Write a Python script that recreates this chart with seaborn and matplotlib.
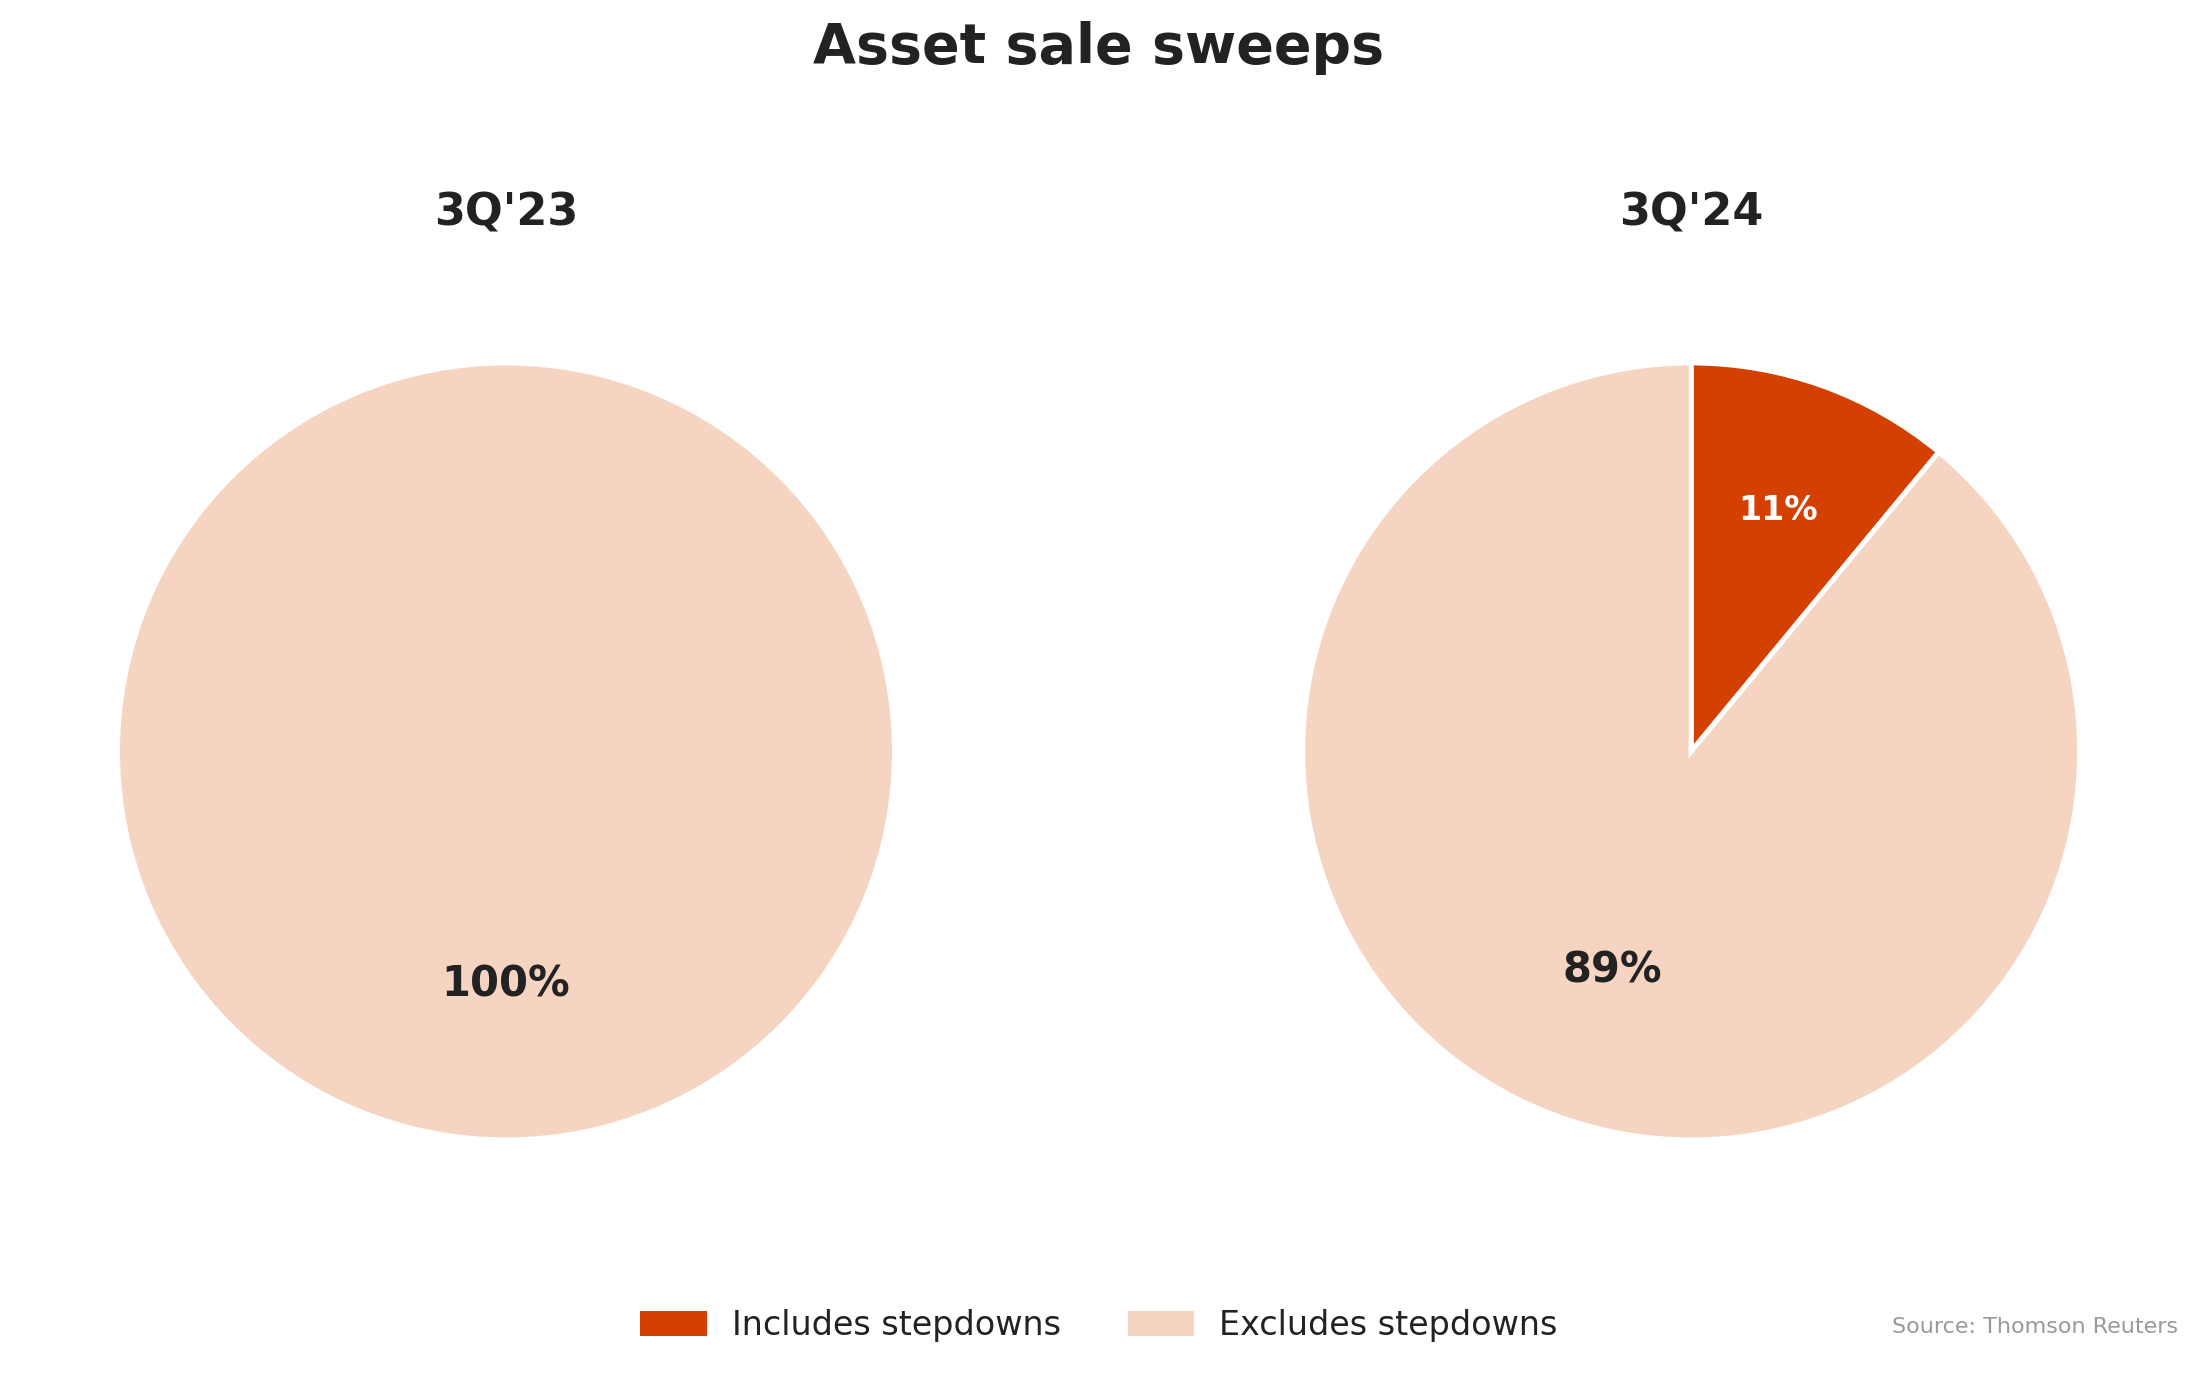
import matplotlib
matplotlib.use("Agg")
import matplotlib.pyplot as plt
import seaborn as sns
from matplotlib.patches import Patch

title = "Asset sale sweeps"
periods = ["3Q'23", "3Q'24"]
categories = ["Includes stepdowns", "Excludes stepdowns"]
values_3q23 = [0, 100]
values_3q24 = [11, 89]
colors = ["#D44000", "#F5D5C2"]
source = "Source: Thomson Reuters"

sns.set_theme(style="white")
plt.rcParams['font.family'] = ['DejaVu Sans']

fig = plt.figure(figsize=(10.99, 6.875), dpi=200)
w, h = 0.3535, 0.5651
centers = [0.2302, 0.7694]
cy = 0.4535
series = [values_3q23, values_3q24]

for cx, period, vals in zip(centers, periods, series):
    ax = fig.add_axes([cx - w / 2, cy - h / 2, w, h])
    keep = [i for i, v in enumerate(vals) if v > 0]
    v = [vals[i] for i in keep]
    c = [colors[i] for i in keep]
    wedges, texts, autotexts = ax.pie(
        v, colors=c, startangle=90, counterclock=False,
        autopct="%d%%", pctdistance=0.6,
        wedgeprops=dict(edgecolor="white", linewidth=1.8))
    for i, t in zip(keep, autotexts):
        if i == 0:
            t.set_color("white")
            t.set_fontsize(12)
            x, y = t.get_position()
            t.set_position((x * 1.1, y * 1.1))
        else:
            t.set_color("#222222")
            t.set_fontsize(15)
        t.set_fontweight("bold")
    ax.set_xlim(-1, 1)
    ax.set_ylim(-1, 1)
    ax.set_aspect("equal")
    ax.set_title(period, fontsize=16, fontweight="bold", color="#222222", pad=49.5)

fig.suptitle(title, fontsize=20, fontweight="bold", color="#222222", y=0.985)

handles = [Patch(facecolor=col, edgecolor="none", label=lab) for col, lab in zip(colors, categories)]
fig.legend(handles=handles, loc="center", bbox_to_anchor=(0.5, 0.036), ncol=2,
           frameon=False, fontsize=12, handlelength=2.0, handleheight=0.8,
           handletextpad=0.75, columnspacing=2.0, labelcolor="#222222")
fig.text(0.991, 0.035, source, ha="right", va="center", fontsize=8, color="#999999")

fig.savefig("out.png", dpi=200, facecolor="white")
